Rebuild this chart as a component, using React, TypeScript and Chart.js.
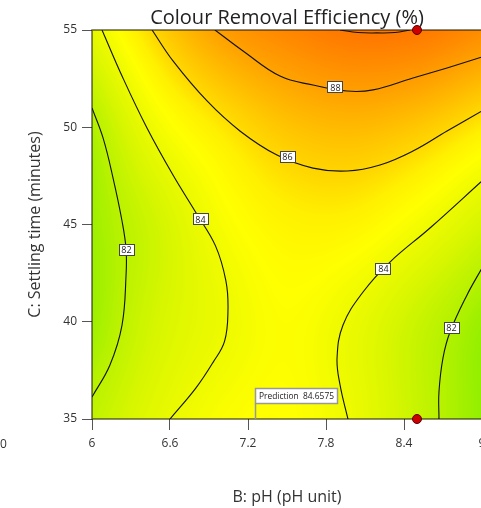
import React, { useEffect, useRef } from 'react';
import { Chart, registerables } from 'chart.js';

Chart.register(...registerables);

// ---------- data ----------
const chartTitle = 'Colour Removal Efficiency (%)';
const xTitle = 'B: pH (pH unit)';
const yTitle = 'C: Settling time (minutes)';

const xTickValues = [6, 6.6, 7.2, 7.8, 8.4, 9];
const xTickLabels = ['6', '6.6', '7.2', '7.8', '8.4', '9'];
const yTickValues = [35, 40, 45, 50, 55];
const yTickLabels = ['35', '40', '45', '50', '55'];
const leftCutLabel = '0';

const phGrid = [6, 6.5, 7, 7.5, 8, 8.5, 9];
const timeGrid = [35, 40, 45, 50, 55];
const removalAt35 = [82.3, 83.6, 84.5, 84.7, 83.95, 82.5, 81.1];
const removalAt40 = [81.4, 83.0, 83.95, 84.6, 83.9, 82.6, 81.3];
const removalAt45 = [81.4, 82.85, 84.4, 85.2, 85.2, 84.3, 83.0];
const removalAt50 = [81.8, 84.2, 85.6, 86.7, 87.1, 86.6, 85.5];
const removalAt55 = [83.7, 86.2, 88.2, 89.3, 90.1, 90.0, 89.0];

// contour lines [pH, time]
const contour82Left = [[6.0, 50.99], [6.085, 49.45], [6.162, 47.39], [6.231, 45.18], [6.262, 43.74], [6.262, 42.4], [6.231, 39.83], [6.138, 37.78], [6.0, 36.13]];
const contour84Left = [[6.077, 55], [6.238, 52.53], [6.423, 49.96], [6.623, 47.54], [6.8, 45.6], [6.95, 43.9], [7.03, 42.1], [7.046, 40.6], [7.02, 39.0], [6.93, 37.9], [6.8, 36.6], [6.6, 35]];
const contour86 = [[6.462, 55], [6.623, 53.41], [6.885, 51.35], [7.138, 49.81], [7.423, 48.57], [7.7, 47.9], [7.962, 47.75], [8.215, 48.06], [8.469, 48.78], [8.731, 49.81], [9.0, 50.84]];
const contour88 = [[6.946, 55], [7.162, 53.92], [7.446, 52.63], [7.7, 52.17], [7.962, 51.86], [8.162, 51.92], [8.469, 52.53], [8.731, 53.05], [9.0, 53.61]];
const contour90 = [[7.908, 55], [8.046, 54.87], [8.192, 54.85], [8.331, 54.87], [8.446, 55]];
const contour84Right = [[9.0, 47.24], [8.6, 44.82], [8.292, 43.07], [8.085, 41.53], [7.931, 39.83], [7.885, 38.14], [7.908, 36.75], [7.969, 35]];
const contour82Right = [[9.0, 42.76], [8.885, 41.38], [8.754, 39.47], [8.7, 38.14], [8.669, 36.39], [8.669, 35]];

const contourLabelPH = [6.262, 6.831, 7.5, 7.869, 8.238, 8.762];
const contourLabelTime = [43.74, 45.3, 48.52, 52.07, 42.76, 39.73];
const contourLabelText = ['82', '84', '86', '88', '84', '82'];

const designPointPH = [8.5, 8.5];
const designPointTime = [55, 35];

const predictionPH = 7.254;
const predictionTime = 35;
const predictionText = 'Prediction  84.6575';

// colour map
const colorLevels = [80, 81, 81.5, 82, 83, 84, 84.7, 85.4, 86, 87, 88, 89, 90, 91];
const colorHex = ['#5ce600', '#8cf000', '#a2f000', '#b8f200', '#d6f600', '#eefa00', '#ffff00', '#fff000', '#ffd800', '#ffbc00', '#ffa200', '#ff8c00', '#ff7800', '#ff6800'];

// ---------- helpers ----------
const FONT = "'Open Sans', 'Noto Sans', sans-serif";
const surfaceRows = [removalAt35, removalAt40, removalAt45, removalAt50, removalAt55];

function hexToRgb(h: string) {
  const n = parseInt(h.slice(1), 16);
  return [(n >> 16) & 255, (n >> 8) & 255, n & 255];
}
const colorRgb = colorHex.map(hexToRgb);

function colorFor(v: number) {
  if (v <= colorLevels[0]) return colorRgb[0];
  const last = colorLevels.length - 1;
  if (v >= colorLevels[last]) return colorRgb[last];
  let i = 0;
  while (v > colorLevels[i + 1]) i++;
  const t = (v - colorLevels[i]) / (colorLevels[i + 1] - colorLevels[i]);
  const a = colorRgb[i], b = colorRgb[i + 1];
  return [a[0] + (b[0] - a[0]) * t, a[1] + (b[1] - a[1]) * t, a[2] + (b[2] - a[2]) * t];
}

function cr(p0: number, p1: number, p2: number, p3: number, t: number) {
  return 0.5 * (2 * p1 + (-p0 + p2) * t + (2 * p0 - 5 * p1 + 4 * p2 - p3) * t * t + (-p0 + 3 * p1 - 3 * p2 + p3) * t * t * t);
}
function get(arr: number[], k: number) {
  const n = arr.length;
  if (k < 0) return 2 * arr[0] - arr[1];
  if (k > n - 1) return 2 * arr[n - 1] - arr[n - 2];
  return arr[k];
}
function sample1d(arr: number[], f: number) {
  const n = arr.length;
  let i = Math.floor(f);
  if (i < 0) i = 0;
  if (i > n - 2) i = n - 2;
  const t = f - i;
  return cr(get(arr, i - 1), get(arr, i), get(arr, i + 1), get(arr, i + 2), t);
}
function surface(ph: number, time: number) {
  const fx = (ph - phGrid[0]) / (phGrid[1] - phGrid[0]);
  const fy = (time - timeGrid[0]) / (timeGrid[1] - timeGrid[0]);
  const col = surfaceRows.map((row) => sample1d(row, fx));
  return sample1d(col, fy);
}

const heatPlugin = {
  id: 'heat',
  beforeDatasetsDraw(chart: any) {
    const { ctx, chartArea: a, scales } = chart;
    const xs = scales.x, ys = scales.y;
    const w = Math.round(a.right - a.left), h = Math.round(a.bottom - a.top);
    const off = document.createElement('canvas');
    off.width = w; off.height = h;
    const octx = off.getContext('2d')!;
    const img = octx.createImageData(w, h);
    for (let j = 0; j < h; j++) {
      const t = ys.getValueForPixel(a.top + j + 0.5);
      for (let i = 0; i < w; i++) {
        const p = xs.getValueForPixel(a.left + i + 0.5);
        const c = colorFor(surface(p, t));
        const k = (j * w + i) * 4;
        img.data[k] = c[0]; img.data[k + 1] = c[1]; img.data[k + 2] = c[2]; img.data[k + 3] = 255;
      }
    }
    octx.putImageData(img, 0, 0);
    ctx.save();
    ctx.drawImage(off, a.left, a.top);
    ctx.strokeStyle = 'rgba(20,20,0,0.65)';
    ctx.lineWidth = 1.5;
    ctx.strokeRect(a.left, a.top, a.right - a.left, a.bottom - a.top);
    ctx.restore();
  },
  afterDatasetsDraw(chart: any) {
    const { ctx, scales } = chart;
    const xs = scales.x, ys = scales.y;
    ctx.save();
    ctx.font = `9px ${FONT}`;
    ctx.textAlign = 'center';
    ctx.textBaseline = 'middle';
    contourLabelText.forEach((txt, i) => {
      const px = xs.getPixelForValue(contourLabelPH[i]);
      const py = ys.getPixelForValue(contourLabelTime[i]);
      const bw = 15, bh = 11;
      ctx.fillStyle = '#ffffff';
      ctx.fillRect(Math.round(px - bw / 2) + 0.5, Math.round(py - bh / 2) + 0.5, bw, bh);
      ctx.strokeStyle = '#444';
      ctx.lineWidth = 1;
      ctx.strokeRect(Math.round(px - bw / 2) + 0.5, Math.round(py - bh / 2) + 0.5, bw, bh);
      ctx.fillStyle = '#222';
      ctx.fillText(txt, Math.round(px) + 0.5, Math.round(py) + 1);
    });
    // prediction flag
    const fx = Math.round(xs.getPixelForValue(predictionPH)) + 0.5;
    const fy = ys.getPixelForValue(predictionTime);
    ctx.font = `8.4px ${FONT}`;
    const tw = ctx.measureText(predictionText).width;
    const bx = fx, by = Math.round(fy - 31) + 0.5, bw2 = Math.round(tw + 7), bh2 = 15;
    ctx.strokeStyle = '#999';
    ctx.lineWidth = 1.5;
    ctx.beginPath();
    ctx.moveTo(fx, by + bh2);
    ctx.lineTo(fx, fy);
    ctx.stroke();
    ctx.fillStyle = '#fff';
    ctx.fillRect(bx, by, bw2, bh2);
    ctx.strokeRect(bx, by, bw2, bh2);
    ctx.fillStyle = '#222';
    ctx.textAlign = 'left';
    ctx.fillText(predictionText, bx + 3.5, by + bh2 / 2 + 0.5);
    ctx.restore();
  },
  afterDraw(chart: any) {
    const { ctx, chartArea: a } = chart;
    ctx.save();
    ctx.font = `12px ${FONT}`;
    ctx.fillStyle = '#333';
    ctx.textAlign = 'center';
    ctx.textBaseline = 'middle';
    ctx.fillText(leftCutLabel, 3.5, a.bottom + 26);
    ctx.restore();
  },
};

const toPts = (arr: number[][]) => arr.map(([x, y]) => ({ x, y }));
const contours = [contour82Left, contour84Left, contour86, contour88, contour90, contour84Right, contour82Right];

export default function App() {
  const ref = useRef<HTMLCanvasElement | null>(null);
  useEffect(() => {
    document.body.style.overflow = 'hidden';
    const canvas = ref.current;
    if (!canvas) return;
    const chart = new Chart(canvas, {
      type: 'scatter',
      data: {
        datasets: [
          {
            data: designPointPH.map((x, i) => ({ x, y: designPointTime[i] })),
            pointRadius: 4.5,
            pointBackgroundColor: '#cc0000',
            pointBorderColor: '#5a0000',
            pointBorderWidth: 1,
            showLine: false,
            clip: false,
          } as any,
          ...contours.map((c) => ({
            data: toPts(c),
            showLine: true,
            pointRadius: 0,
            borderColor: '#111',
            borderWidth: 1.1,
            tension: 0.4,
            fill: false,
          })),
        ],
      },
      options: {
        animation: false,
        responsive: false,
        events: [],
        layout: { padding: { left: 0, right: 18, top: 0, bottom: 0 } },
        plugins: {
          legend: { display: false },
          tooltip: { enabled: false },
          title: {
            display: true,
            text: chartTitle,
            color: '#222',
            font: { family: FONT, size: 20, weight: 'normal' },
            padding: { top: 6, bottom: 0 },
            fullSize: false,
          } as any,
        },
        scales: {
          x: {
            type: 'linear',
            min: 6,
            max: 9,
            afterBuildTicks: (s: any) => { s.ticks = xTickValues.map((v) => ({ value: v })); },
            afterFit: (s: any) => { s.height = 89; },
            ticks: {
              callback: (_v: any, i: number) => xTickLabels[i],
              color: '#333',
              font: { family: FONT, size: 12 },
              padding: 6,
              maxRotation: 0,
              autoSkip: false,
            },
            grid: { drawOnChartArea: false, drawTicks: true, tickLength: 11, color: '#555' },
            border: { display: false },
            title: { display: true, text: xTitle, color: '#333', font: { family: FONT, size: 16 }, padding: { top: 0, bottom: 1.4 } },
          },
          y: {
            type: 'linear',
            min: 35,
            max: 55,
            afterBuildTicks: (s: any) => { s.ticks = yTickValues.map((v) => ({ value: v })); },
            afterFit: (s: any) => { s.width = 92; },
            ticks: {
              callback: (_v: any, i: number) => yTickLabels[i],
              color: '#333',
              font: { family: FONT, size: 12 },
              padding: 5,
              autoSkip: false,
            },
            grid: { drawOnChartArea: false, drawTicks: true, tickLength: 10, color: '#555' },
            border: { display: false },
            title: { display: true, text: yTitle, color: '#333', font: { family: FONT, size: 16 }, padding: { top: 25.4, bottom: 0 } },
          },
        },
      },
      plugins: [heatPlugin],
    });
    return () => chart.destroy();
  }, []);

  return (
    <div style={{ position: 'fixed', left: 0, top: 0, width: 481, height: 508, overflow: 'hidden' }}>
      <canvas ref={ref} width={500} height={508} style={{ display: 'block', width: 500, height: 508 }} />
    </div>
  );
}
